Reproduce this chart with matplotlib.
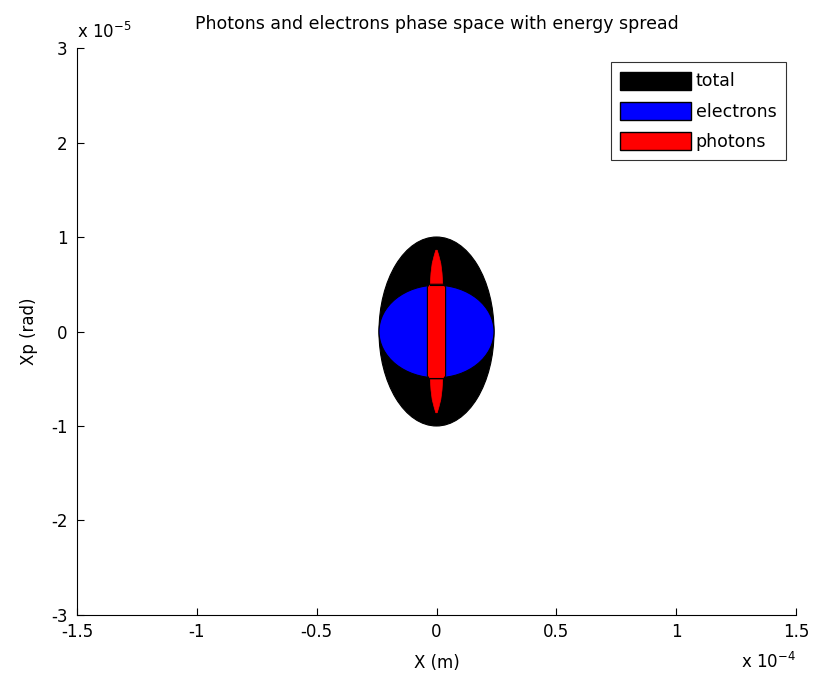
import matplotlib
matplotlib.use('Agg')
import matplotlib.pyplot as plt
from matplotlib.patches import Ellipse, Polygon, Patch
from matplotlib.ticker import FuncFormatter

plt.rcParams['font.family'] = ['DejaVu Sans']

# phase space sizes (x in m, xp in rad), half widths
total_x, total_xp = 0.24e-4, 1.0e-5
elec_x, elec_xp = 0.24e-4, 0.49e-5

# photon spindle profile (xp, half width in x)
phot_xp = [0.86e-5, 0.80e-5, 0.72e-5, 0.62e-5, 0.50e-5, 0.0]
phot_hw = [0.003e-4, 0.010e-4, 0.018e-4, 0.023e-4, 0.026e-4, 0.027e-4]
# photon core
core_xp = [0.50e-5, 0.47e-5, 0.0]
core_hw = [0.030e-4, 0.038e-4, 0.038e-4]

xticks = [-1.5e-4, -1e-4, -0.5e-4, 0, 0.5e-4, 1e-4, 1.5e-4]
yticks = [-3e-5, -2e-5, -1e-5, 0, 1e-5, 2e-5, 3e-5]


def profile(ys, hws):
    right = [(h, y) for y, h in zip(ys, hws)] + [(h, -y) for y, h in zip(ys[::-1], hws[::-1]) if y != 0]
    left = [(-x, y) for x, y in right[::-1]]
    return right + left


fig = plt.figure(figsize=(8.14, 6.84), dpi=100)
ax = fig.add_axes([0.0946, 0.1009, 0.8833, 0.8289])

ax.add_patch(Ellipse((0, 0), 2 * total_x, 2 * total_xp, facecolor='black', edgecolor='black', lw=0.8))
ax.add_patch(Ellipse((0, 0), 2 * elec_x, 2 * elec_xp, facecolor='blue', edgecolor='black', lw=0.8))
ax.add_patch(Polygon(profile(phot_xp, phot_hw), closed=True, facecolor='red', edgecolor='red', lw=0.5))
ax.add_patch(Polygon(profile(core_xp, core_hw), closed=True, facecolor='red', edgecolor='black', lw=0.8))
ax.plot([-phot_hw[4], phot_hw[4]], [elec_xp, elec_xp], color='black', lw=0.8)
ax.plot([-phot_hw[4], phot_hw[4]], [-elec_xp, -elec_xp], color='black', lw=0.8)

ax.set_xlim(xticks[0], xticks[-1])
ax.set_ylim(yticks[0], yticks[-1])
ax.set_xticks(xticks)
ax.set_yticks(yticks)
ax.xaxis.set_major_formatter(FuncFormatter(lambda v, p: '%g' % round(v * 1e4, 6)))
ax.yaxis.set_major_formatter(FuncFormatter(lambda v, p: '%g' % round(v * 1e5, 6)))
ax.tick_params(direction='in', length=5, labelsize=12, width=0.8)
ax.tick_params(axis='x', pad=6)
ax.tick_params(axis='y', pad=7)
ax.spines['top'].set_visible(False)
ax.spines['right'].set_visible(False)

ax.text(0.0, 1.01, r'x 10$^{-5}$', transform=ax.transAxes, fontsize=12, va='bottom', ha='left')
ax.text(1.0, -0.083, r'x 10$^{-4}$', transform=ax.transAxes, fontsize=12, va='center', ha='right')

ax.set_title('Photons and electrons phase space with energy spread', fontsize=12.5, pad=14)
ax.set_xlabel('X (m)', fontsize=12, labelpad=9)
ax.set_ylabel('Xp (rad)', fontsize=12, labelpad=9)

handles = [Patch(facecolor='black', edgecolor='black', label='total'),
           Patch(facecolor='blue', edgecolor='black', label='electrons'),
           Patch(facecolor='red', edgecolor='black', label='photons')]
leg = ax.legend(handles=handles, loc='upper right', bbox_to_anchor=(0.986, 0.975), fontsize=12.5,
                handlelength=4.1, handleheight=1.2, handletextpad=0.25, labelspacing=0.65,
                fancybox=False, borderaxespad=0.0, borderpad=0.55)
leg.get_frame().set_edgecolor('black')
leg.get_frame().set_linewidth(0.8)

fig.savefig('out.png', dpi=100)
